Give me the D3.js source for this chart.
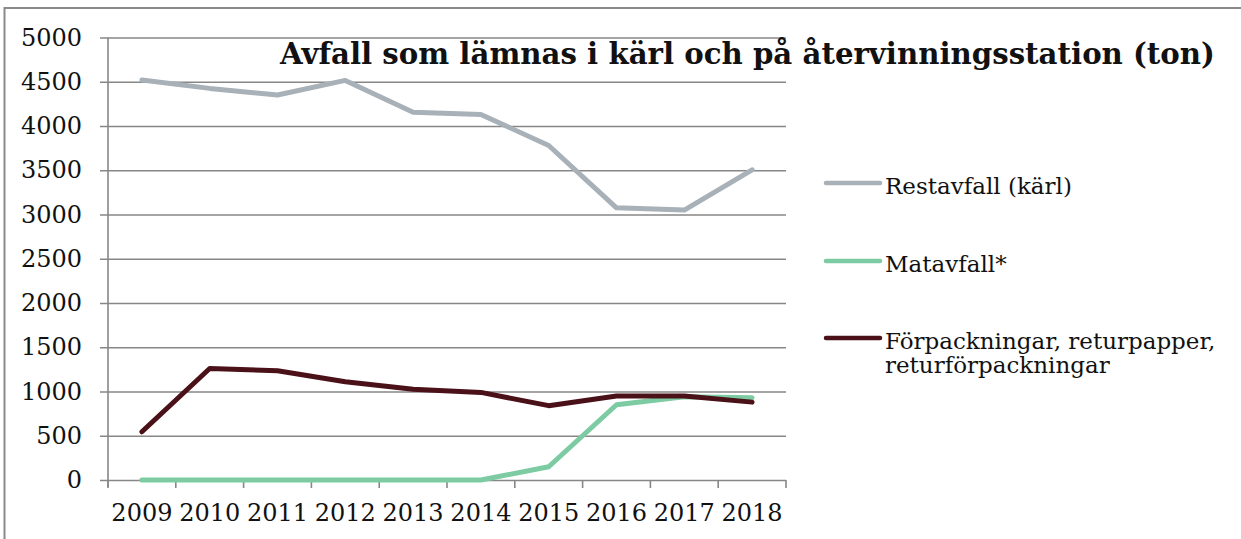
<!DOCTYPE html>
<html>
<head>
<meta charset="utf-8">
<script src="https://cdn.jsdelivr.net/npm/d3@7"></script>
<style>
  html, body { margin: 0; padding: 0; background: #fff; }
  svg { display: block; }
  text { font-family: "DejaVu Serif", "Liberation Serif", serif; fill: #111; }
</style>
</head>
<body>
<svg id="chart" width="1241" height="539"></svg>
<script>
const years = ["2009", "2010", "2011", "2012", "2013", "2014", "2015", "2016", "2017", "2018"];
const restavfall = [4520, 4425, 4350, 4515, 4155, 4130, 3780, 3075, 3050, 3505];
const matavfall = [0, 0, 0, 0, 0, 0, 150, 850, 940, 930];
const forpackningar = [545, 1260, 1235, 1110, 1025, 990, 840, 950, 950, 880];
const yTicks = [0, 500, 1000, 1500, 2000, 2500, 3000, 3500, 4000, 4500, 5000];

const seriesNames = ["Restavfall (kärl)", "Matavfall*", "Förpackningar, returpapper,|returförpackningar"];
const seriesColors = ["#a8b0b8", "#7ccba2", "#4a1118"];
const seriesValues = [restavfall, matavfall, forpackningar];

const svg = d3.select("#chart");

// outer frame (only top and left edges fall inside the window)
svg.append("rect")
  .attr("x", 4.5).attr("y", 8)
  .attr("width", 1300).attr("height", 600)
  .attr("fill", "none")
  .attr("stroke", "#8a8a8a")
  .attr("stroke-width", 2);

const x = d3.scaleBand().domain(years).range([108, 786]).padding(0);
const y = d3.scaleLinear().domain([0, 5000]).range([480, 37.5]);

// gridlines + y labels
const yAxis = svg.append("g")
  .attr("transform", "translate(108,0)")
  .call(d3.axisLeft(y).tickValues(yTicks).tickSize(8).tickPadding(18).tickFormat(d3.format("d")))
  .call(g => g.select(".domain").remove());
yAxis.selectAll(".tick line").attr("x2", 786 - 108).attr("x1", -8)
  .attr("stroke", "#878787").attr("stroke-width", 1.6);
yAxis.selectAll(".tick text")
  .attr("font-family", "DejaVu Serif").attr("font-size", 24).attr("fill", "#111");

// vertical axis line
svg.append("line")
  .attr("x1", 108).attr("x2", 108)
  .attr("y1", y(5000)).attr("y2", y(0) + 7)
  .attr("stroke", "#878787").attr("stroke-width", 1.6);

// x axis ticks at band edges
const edges = years.map(d => x(d)).concat([x.range()[1]]);
svg.append("g").selectAll("line").data(edges).join("line")
  .attr("x1", d => d).attr("x2", d => d)
  .attr("y1", y(0)).attr("y2", y(0) + 8)
  .attr("stroke", "#878787").attr("stroke-width", 1.6);

svg.append("g").selectAll("text").data(years).join("text")
  .attr("x", d => x(d) + x.bandwidth() / 2)
  .attr("y", 521)
  .attr("text-anchor", "middle")
  .attr("font-size", 24)
  .text(d => d);

// lines
const line = d3.line()
  .x((d, i) => x(years[i]) + x.bandwidth() / 2)
  .y(d => y(d));

svg.append("g").selectAll("path").data(seriesValues).join("path")
  .attr("d", d => line(d))
  .attr("fill", "none")
  .attr("stroke", (d, i) => seriesColors[i])
  .attr("stroke-width", 5)
  .attr("stroke-linejoin", "round")
  .attr("stroke-linecap", "round");

// title, fitted to its width in the reference
const title = svg.append("text")
  .attr("x", 280).attr("y", 64)
  .attr("font-weight", "bold")
  .attr("font-size", 26)
  .text("Avfall som lämnas i kärl och på återvinningsstation (ton)");
const tw = title.node().getComputedTextLength();
title.attr("font-size", 26 * 935 / tw);

// legend
const legendY = [183, 261, 338];
const legend = svg.append("g").selectAll("g").data(seriesNames).join("g")
  .attr("transform", (d, i) => `translate(826,${legendY[i]})`);
legend.append("line")
  .attr("x1", 0).attr("x2", 54)
  .attr("stroke", (d, i) => seriesColors[i])
  .attr("stroke-width", 4.5)
  .attr("stroke-linecap", "round");
legend.append("text")
  .attr("x", 59).attr("y", 11)
  .attr("font-size", 23)
  .selectAll("tspan").data(d => d.split("|")).join("tspan")
  .attr("x", 59)
  .attr("dy", (d, i) => i === 0 ? 0 : 24)
  .text(d => d);
</script>
</body>
</html>
